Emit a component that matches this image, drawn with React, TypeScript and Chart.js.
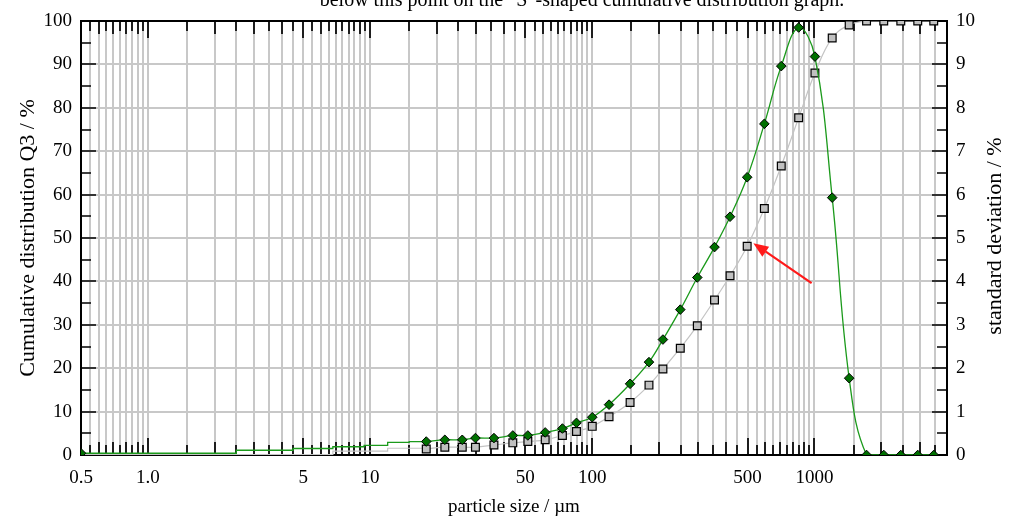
import React, { useEffect, useRef } from 'react';
import { Chart, registerables } from 'chart.js';

Chart.register(...registerables);

// particle size classes (µm) for the marked points
const sizes = [17.9, 21.7, 26.0, 29.8, 36.1, 43.9, 51.3, 61.4, 73.4, 84.9, 100, 119, 148, 180, 208, 249, 297, 355, 417, 498, 595, 709, 849, 1005, 1202, 1433, 1716, 2051, 2447, 2917, 3443];
// standard deviation / % (right axis)
const stdDev = [0.31, 0.35, 0.35, 0.39, 0.39, 0.45, 0.45, 0.52, 0.61, 0.74, 0.87, 1.16, 1.64, 2.14, 2.66, 3.35, 4.09, 4.79, 5.49, 6.40, 7.63, 8.96, 9.85, 9.18, 5.93, 1.77, 0, 0, 0, 0, 0];
// cumulative distribution Q3 / % (left axis)
const q3 = [1.4, 1.8, 1.8, 1.8, 2.3, 2.8, 3.1, 3.5, 4.5, 5.4, 6.6, 8.8, 12.1, 16.1, 19.8, 24.6, 29.8, 35.7, 41.3, 48.1, 56.8, 66.6, 77.7, 88.0, 96.1, 99.1, 100, 100, 100, 100, 100];

// fine-size stepped parts (no markers except first)
const stdLowSizes = [0.5, 2.5, 4.5, 6.8, 9.4, 12, 15, 17.9];
const stdLow = [0.04, 0.11, 0.15, 0.19, 0.22, 0.29, 0.31, 0.31];
const q3LowSizes = [0.5, 6.8, 12, 17.9];
const q3Low = [0.1, 0.9, 1.55, 1.4];

const xLabels = [0.5, 1, 5, 10, 50, 100, 500, 1000];
const mantissas = [1, 1.5, 2, 2.5, 3, 3.5, 4, 4.5, 5, 5.5, 6, 6.5, 7, 7.5, 8, 8.5, 9, 9.5];
const xMin = 0.5;
const xMax = 3950;

const topText = 'below this point on the "S"-shaped cumulative distribution graph.';
const rightTitle = 'standard deviation / %';
const arrowTip = { x: 531, y: 48.8 };
const arrowTail = { x: 971, y: 39.6 };

const FONT = "'Liberation Serif', 'Times New Roman', serif";

function buildXTicks(): number[] {
  const out: number[] = [];
  for (let k = -1; k <= 3; k++) {
    for (const m of mantissas) {
      const v = parseFloat((m * Math.pow(10, k)).toPrecision(6));
      if (v >= xMin - 1e-9 && v <= xMax) out.push(v);
    }
  }
  return out;
}
const xTicks = buildXTicks();

function mant(v: number) {
  const e = Math.floor(Math.log10(v) + 1e-9);
  return Math.round((v / Math.pow(10, e)) * 100) / 100;
}

export default function App() {
  const ref = useRef<HTMLCanvasElement | null>(null);
  useEffect(() => {
    if (!ref.current) return;
    Chart.defaults.font.family = FONT;
    Chart.defaults.font.size = 19;
    Chart.defaults.color = '#000';

    const frame = {
      id: 'frame',
      beforeDatasetsDraw(chart: any) {
        const { ctx, chartArea, scales } = chart;
        const { left, right, top, bottom } = chartArea;
        ctx.save();
        ctx.strokeStyle = '#000';
        ctx.lineWidth = 1.7;
        ctx.beginPath();
        for (const v of xTicks) {
          const px = Math.round(scales.x.getPixelForValue(v));
          const m = mant(v);
          const len = m === 1 || m === 5 ? 17 : Number.isInteger(m) ? 13 : 10;
          ctx.moveTo(px, bottom);
          ctx.lineTo(px, bottom - len);
          ctx.moveTo(px, top);
          ctx.lineTo(px, top + len);
        }
        for (let v = 0; v <= 100; v += 5) {
          const py = Math.round(scales.y.getPixelForValue(v));
          const len = v % 10 === 0 ? 15 : 10;
          ctx.moveTo(left, py);
          ctx.lineTo(left + len, py);
        }
        for (let i = 0; i <= 20; i++) {
          const v = i / 2;
          const py = Math.round(scales.y2.getPixelForValue(v));
          const len = i % 2 === 0 ? 15 : 10;
          ctx.moveTo(right, py);
          ctx.lineTo(right - len, py);
        }
        ctx.stroke();
        ctx.lineWidth = 2;
        ctx.strokeRect(left, top, right - left, bottom - top);
        ctx.restore();
      },
      afterDraw(chart: any) {
        const { ctx, scales, chartArea } = chart;
        ctx.save();
        // top (cut) text
        ctx.font = `20px ${FONT}`;
        ctx.fillStyle = '#000';
        ctx.textAlign = 'center';
        ctx.textBaseline = 'alphabetic';
        ctx.fillText(topText, 582, 6);
        // right axis title, reading bottom to top
        ctx.save();
        ctx.font = `22px ${FONT}`;
        ctx.textBaseline = 'middle';
        ctx.translate(995, (chartArea.top + chartArea.bottom) / 2 - 2);
        ctx.rotate(-Math.PI / 2);
        ctx.fillText(rightTitle, 0, 0);
        ctx.restore();
        // red arrow
        const x1 = scales.x.getPixelForValue(arrowTail.x);
        const y1 = scales.y.getPixelForValue(arrowTail.y);
        const x2 = scales.x.getPixelForValue(arrowTip.x);
        const y2 = scales.y.getPixelForValue(arrowTip.y);
        const ang = Math.atan2(y2 - y1, x2 - x1);
        const headLen = 15;
        const headW = 6;
        const bx = x2 - headLen * Math.cos(ang);
        const by = y2 - headLen * Math.sin(ang);
        ctx.strokeStyle = '#ff1a1a';
        ctx.fillStyle = '#ff1a1a';
        ctx.lineWidth = 2.2;
        ctx.beginPath();
        ctx.moveTo(x1, y1);
        ctx.lineTo(bx, by);
        ctx.stroke();
        ctx.beginPath();
        ctx.moveTo(x2, y2);
        ctx.lineTo(bx + headW * Math.sin(ang), by - headW * Math.cos(ang));
        ctx.lineTo(bx - headW * Math.sin(ang), by + headW * Math.cos(ang));
        ctx.closePath();
        ctx.fill();
        ctx.restore();
      },
    };

    const green = '#1b9a1b';
    const chart = new Chart(ref.current, {
      type: 'line',
      data: {
        datasets: [
          {
            data: sizes.map((s, i) => ({ x: s, y: stdDev[i] })),
            yAxisID: 'y2',
            borderColor: green,
            borderWidth: 1.3,
            tension: 0.4,
            pointStyle: 'rectRot',
            pointRadius: 4.8,
            pointBackgroundColor: '#007000',
            pointBorderColor: '#000',
            pointBorderWidth: 1,
          },
          {
            data: stdLowSizes.map((s, i) => ({ x: s, y: stdLow[i] })),
            yAxisID: 'y2',
            borderColor: green,
            borderWidth: 1.3,
            stepped: 'before',
            pointStyle: 'rectRot',
            pointRadius: stdLowSizes.map((_, i) => (i === 0 ? 4.8 : 0)),
            pointBackgroundColor: '#007000',
            pointBorderColor: '#000',
            pointBorderWidth: 1,
          },
          {
            data: sizes.map((s, i) => ({ x: s, y: q3[i] })),
            yAxisID: 'y',
            borderColor: '#c4c4c4',
            borderWidth: 1.2,
            tension: 0.4,
            pointStyle: 'rect',
            pointRadius: 5.5,
            pointBackgroundColor: '#c0c0c0',
            pointBorderColor: '#000',
            pointBorderWidth: 1.2,
          },
          {
            data: q3LowSizes.map((s, i) => ({ x: s, y: q3Low[i] })),
            yAxisID: 'y',
            borderColor: '#c4c4c4',
            borderWidth: 1.2,
            stepped: 'before',
            pointRadius: 0,
          },
        ],
      },
      options: {
        animation: false,
        responsive: true,
        maintainAspectRatio: false,
        layout: { padding: { top: 21, left: 0, right: 0, bottom: 0 } },
        plugins: { legend: { display: false }, tooltip: { enabled: false } },
        scales: {
          x: {
            type: 'logarithmic',
            min: xMin,
            max: xMax,
            afterBuildTicks: (scale: any) => {
              scale.ticks = xTicks.map((v) => ({ value: v }));
            },
            afterFit: (scale: any) => {
              scale.height = 68;
            },
            ticks: {
              autoSkip: false,
              maxRotation: 0,
              padding: 12,
              font: { size: 19 },
              callback: (v: any) => {
                const n = Number(v);
                if (!xLabels.some((l) => Math.abs(l - n) < 1e-9)) return '';
                if (n === 1) return '1.0';
                return String(n);
              },
            },
            grid: { color: '#c8c8c8', lineWidth: 2, drawTicks: false },
            border: { display: false },
            title: { display: true, text: 'particle size / µm', font: { size: 19 }, padding: { top: 0, bottom: 5 } },
          },
          y: {
            position: 'left',
            min: 0,
            max: 100,
            afterFit: (scale: any) => {
              scale.width = 81;
            },
            ticks: {
              stepSize: 5,
              padding: 9,
              font: { size: 19 },
              callback: (v: any) => (Number(v) % 10 === 0 ? String(v) : ''),
            },
            grid: { color: '#c8c8c8', lineWidth: 2, drawTicks: false },
            border: { display: false },
            title: { display: true, text: 'Cumulative distribution Q3 / %', font: { size: 22 }, padding: { top: 15, bottom: 0 } },
          },
          y2: {
            position: 'right',
            min: 0,
            max: 10,
            afterFit: (scale: any) => {
              scale.width = 67;
            },
            ticks: {
              stepSize: 0.5,
              padding: 9,
              font: { size: 19 },
              callback: (v: any) => (Number.isInteger(Number(v)) ? String(v) : ''),
            },
            grid: { drawOnChartArea: false, drawTicks: false },
            border: { display: false },
            title: { display: false },
          },
        },
      },
      plugins: [frame],
    } as any);
    return () => chart.destroy();
  }, []);

  return (
    <div style={{ position: 'fixed', left: 0, top: 0, width: 1014, height: 523, background: '#fff' }}>
      <canvas ref={ref} />
    </div>
  );
}
